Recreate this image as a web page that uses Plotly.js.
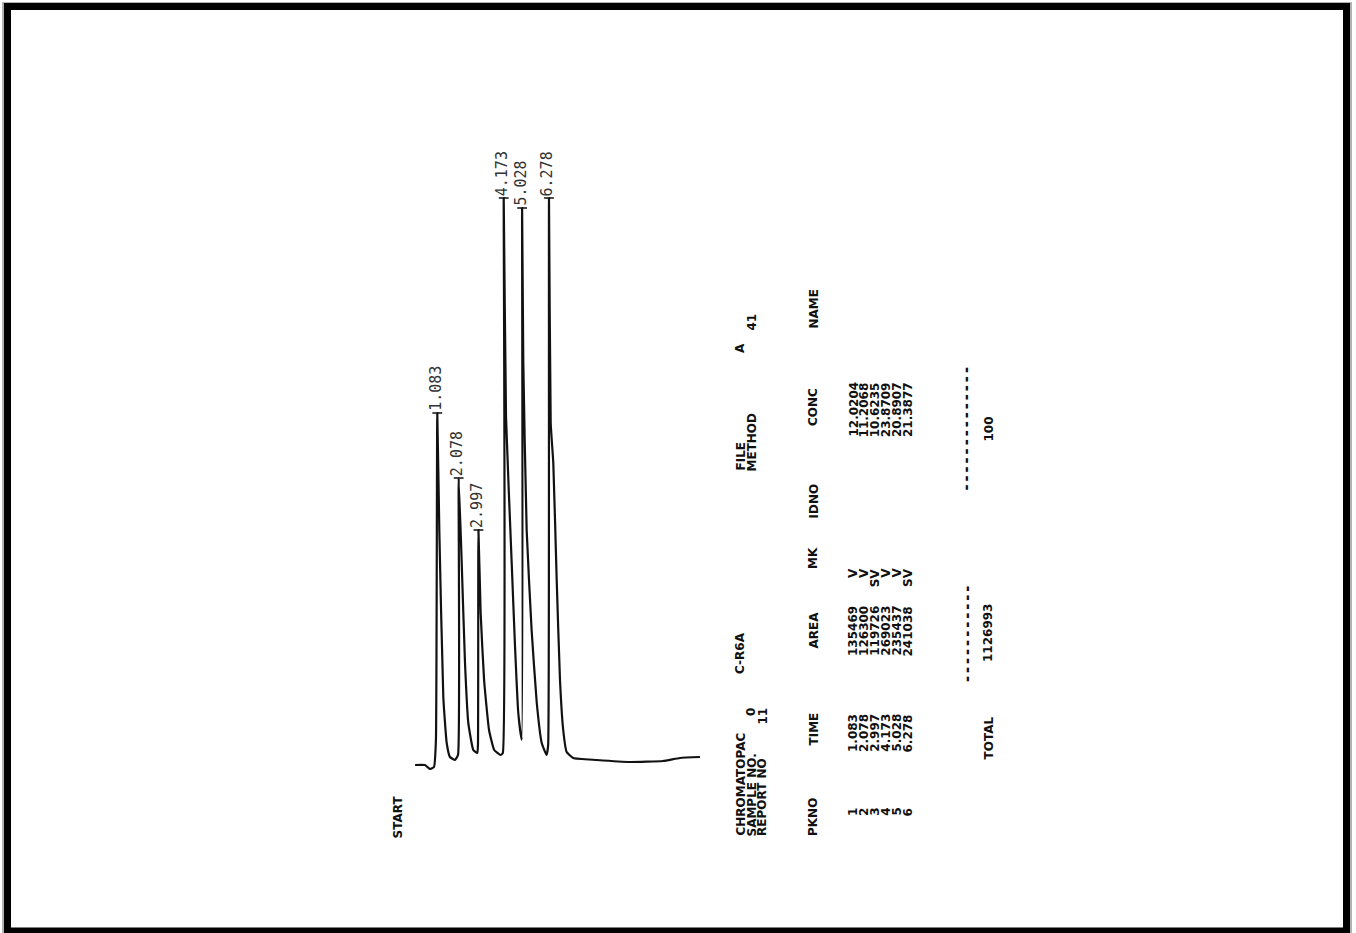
<!DOCTYPE html>
<html>
<head>
<meta charset="utf-8">
<script src="https://cdn.plot.ly/plotly-3.0.1.min.js"></script>
<style>html,body{margin:0;padding:0;background:#fff;}#chart{width:1356px;height:933px;}</style>
</head>
<body>
<div id="chart"></div>
<script>
// ---- chromatogram trace (time in min, detector signal in mV) ----
const time = [0.05, 0.51, 0.74, 0.93, 1.02, 1.083, 1.177, 1.363, 1.521, 1.674, 1.907,
  2.047, 2.078, 2.219, 2.372, 2.526, 2.758, 2.944,
  2.975, 2.997, 3.10, 3.26, 3.49, 3.73, 4.03, 4.13,
  4.173, 4.28, 4.544, 4.70, 4.85, 5.01,
  5.028, 5.084, 5.24, 5.47, 5.71, 5.94, 6.17, 6.24,
  6.278, 6.358, 6.479, 6.637, 6.79, 6.94, 7.10, 7.41, 8.50, 10.05, 11.58, 12.37, 13.30];
const signal = [0, 0, -0.4, -0.2, 2.5, 35.2, 23.5, 6.8, 2.2, 0.8, 0.5,
  1.0, 28.7, 20.2, 10.2, 4.2, 1.5, 1.2,
  2.0, 23.5, 15.2, 8.5, 3.5, 1.5, 1.0, 1.2,
  56.7, 34.8, 20.2, 11.8, 5.2, 2.5,
  55.7, 40.2, 23.5, 13.5, 6.2, 2.2, 1.0, 2.0,
  56.7, 34.2, 30.2, 18.5, 8.5, 3.5, 1.3, 0.7, 0.5, 0.3, 0.4, 0.7, 0.8];

// ---- peak marks ----
const peakTimes = [1.083, 2.078, 2.997, 4.173, 5.028, 6.278];
const peakHeights = [35.2, 28.7, 23.5, 56.7, 55.7, 56.7];
const peakLabels = ["1.083", "2.078", "2.997", "4.173", "5.028", "6.278"];

// ---- report table ----
const pkNo = ["1", "2", "3", "4", "5", "6"];
const rtTime = ["1.083", "2.078", "2.997", "4.173", "5.028", "6.278"];
const area = ["135469", "126300", "119726", "269023", "235437", "241038"];
const mk = ["V", "V", "SV", "V", "V", "SV"];
const conc = ["12.0204", "11.2068", "10.6235", "23.8709", "20.8907", "21.3877"];
const columnHeads = ["PKNO", "TIME", "AREA", "MK", "IDNO", "CONC", "NAME"];
const totalArea = "1126993";
const totalConc = "100";

const W = 1356, H = 933;
const px = v => v / W;
const py = v => 1 - v / H;

const tableFont = {family: "DejaVu Sans", size: 12, color: "#111", weight: "bold"};
const dashFont = {family: "DejaVu Sans Mono", size: 15, color: "#111", weight: "bold"};
const labelFont = {family: "DejaVu Sans Mono", size: 15, color: "#333"};

function txt(text, x, y, anchor, font) {
  return {text: text, xref: "paper", yref: "paper", x: px(x), y: py(y),
    xanchor: "center", yanchor: anchor || "bottom", textangle: -90,
    showarrow: false, font: font || tableFont, borderpad: 0};
}

const ann = [];
// peak labels
peakTimes.forEach((t, i) => {
  ann.push({text: peakLabels[i], x: t, y: peakHeights[i], xref: "x", yref: "y",
    xanchor: "center", yanchor: "bottom", textangle: -90, showarrow: false,
    xshift: -2, yshift: 1, font: labelFont, borderpad: 0});
});
ann.push(txt("START", 397, 840));
// header lines
ann.push(txt("CHROMATOPAC", 740, 837));
ann.push(txt("C-R6A", 740, 675));
ann.push(txt("FILE", 740, 472));
ann.push(txt("A", 740, 342, "top"));
ann.push(txt("SAMPLE NO.", 751, 837));
ann.push(txt("0", 751, 707, "top"));
ann.push(txt("METHOD", 751, 472));
ann.push(txt("41", 751, 312, "top"));
ann.push(txt("REPORT NO", 762, 837));
ann.push(txt("11", 762, 707, "top"));
// column heads
const headBottoms = [837, 747, 650, 570, 520, 427, 330];
columnHeads.forEach((h, i) => ann.push(txt(h, 813, headBottoms[i])));
// rows
pkNo.forEach((p, i) => {
  const x = 853 + i * 10.9;
  ann.push(txt(p, x, 817));
  ann.push(txt(rtTime[i], x, 753));
  ann.push(txt(area[i], x, 657));
  ann.push(txt(mk[i], x, 567, "top"));
  ann.push(txt(conc[i], x, 438));
});
ann.push(txt("-----------", 966, 685, "bottom", dashFont));
ann.push(txt("--------------", 966, 493, "bottom", dashFont));
ann.push(txt("TOTAL", 988, 760));
ann.push(txt(totalArea, 988, 663));
ann.push(txt(totalConc, 988, 442));

const traces = [
  {x: time, y: signal, type: "scatter", mode: "lines",
   line: {color: "#111", width: 2.2, shape: "spline", smoothing: 0.4}, hoverinfo: "skip"},
  {x: peakTimes, y: peakHeights, type: "scatter", mode: "markers",
   marker: {symbol: "line-ew-open", size: 7, color: "#111", line: {color: "#111", width: 1.5}}, hoverinfo: "skip"}
];

const layout = {
  width: W, height: H,
  margin: {l: 0, r: 0, t: 0, b: 0, pad: 0},
  paper_bgcolor: "#fff", plot_bgcolor: "#fff",
  showlegend: false,
  xaxis: {range: [-414 / 21.5, (W - 414) / 21.5], visible: false, fixedrange: true},
  yaxis: {range: [-16.8, 76.5], visible: false, fixedrange: true},
  annotations: ann,
  shapes: [
    {type: "rect", xref: "paper", yref: "paper", x0: px(3), x1: px(1351), y0: py(3), y1: py(934),
     line: {color: "#999", width: 1.5}},
    {type: "rect", xref: "paper", yref: "paper", x0: px(7.5), x1: px(1346.5), y0: py(6.5), y1: py(931),
     line: {color: "#000", width: 7}}
  ]
};

Plotly.newPlot("chart", traces, layout, {displayModeBar: false, staticPlot: true});
</script>
</body>
</html>
